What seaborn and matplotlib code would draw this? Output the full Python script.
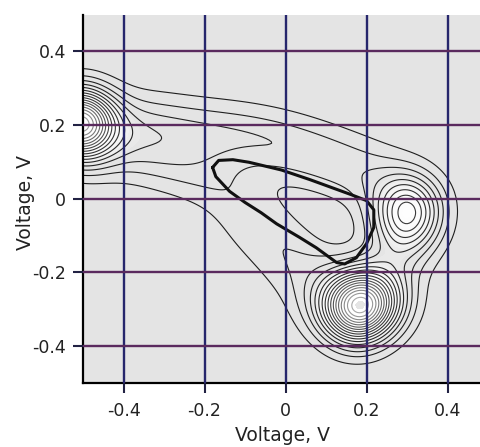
import numpy as np
import pandas as pd
import seaborn as sns
import matplotlib
matplotlib.use("Agg")
import matplotlib.pyplot as plt
from matplotlib.colors import LinearSegmentedColormap
from seaborn._statistics import KDE

# ---- density sample points (x, y, weight) ----
peak_x = [-0.51, -0.50, 0.305, 0.30, 0.19, 0.175, 0.13, 0.245]
peak_y = [0.212, 0.155, -0.005, -0.065, -0.275, -0.325, -0.285, -0.285]
peak_w = [14.0, 3.0, 5.0, 5.0, 10.0, 6.0, 2.0, 2.0]

upper_x = [-0.44, -0.40, -0.36, -0.32, -0.28, -0.24, -0.20, -0.16, -0.12,
           -0.08, -0.04, 0.00, 0.04, 0.08, 0.12, 0.16, 0.20, 0.24]
upper_y = [0.205, 0.200, 0.194, 0.189, 0.183, 0.176, 0.172, 0.168, 0.164,
           0.158, 0.149, 0.138, 0.124, 0.108, 0.092, 0.075, 0.056, 0.036]
upper_w = [0.7] * 18

upper_out_x = [-0.36, -0.28, -0.20, -0.12, -0.04, 0.04, 0.12, 0.20, 0.27]
upper_out_y = [0.235, 0.225, 0.215, 0.205, 0.192, 0.175, 0.152, 0.122, 0.085]
upper_out_w = [0.35] * 9

lower_x = [-0.44, -0.40, -0.36, -0.32, -0.28, -0.24, -0.20, -0.16, -0.12,
           -0.08, -0.04, 0.00, 0.04, 0.08, 0.12]
lower_y = [0.140, 0.130, 0.118, 0.106, 0.093, 0.078, 0.060, 0.036, 0.004,
           -0.035, -0.077, -0.118, -0.162, -0.207, -0.250]
lower_w = [0.6] * 8 + [0.55] * 4 + [0.7] * 3

lower_out_x = [-0.12, -0.08, -0.04, 0.00, 0.04, 0.08]
lower_out_y = [-0.070, -0.120, -0.170, -0.220, -0.270, -0.315]
lower_out_w = [0.3] * 6

right_x = [0.29, 0.27, 0.25]
right_y = [-0.12, -0.17, -0.22]
right_w = [1.0] * 3

# bold closed trajectory drawn over the density
loop_x = [-0.180, -0.165, -0.130, -0.090, -0.010, 0.060, 0.120, 0.160, 0.200,
          0.218, 0.218, 0.200, 0.175, 0.146, 0.126, 0.076, 0.035, -0.022,
          -0.060, -0.100, -0.138, -0.172, -0.180]
loop_y = [0.085, 0.104, 0.106, 0.099, 0.078, 0.052, 0.028, 0.012, -0.005,
          -0.030, -0.078, -0.122, -0.160, -0.177, -0.173, -0.133, -0.105,
          -0.068, -0.038, -0.010, 0.020, 0.060, 0.085]

ticks = [-0.4, -0.2, 0, 0.2, 0.4]
tick_labels = ["-0.4", "-0.2", "0", "0.2", "0.4"]
xlabel = "Voltage, V"
ylabel = "Voltage, V"

df = pd.DataFrame({
    "x": peak_x + upper_x + upper_out_x + lower_x + lower_out_x + right_x,
    "y": peak_y + upper_y + upper_out_y + lower_y + lower_out_y + right_y,
    "w": peak_w + upper_w + upper_out_w + lower_w + lower_out_w + right_w,
})
loop = pd.DataFrame({"x": loop_x, "y": loop_y})

KERNEL_SD = (0.058, 0.061)   # kernel standard deviation in x and y
GRID = 250
CUT = 4


def fixed_kernel(kde):
    """Bandwidth rule: a fixed axis-aligned Gaussian kernel."""
    c = np.diag([KERNEL_SD[0] ** 2, KERNEL_SD[1] ** 2])
    kde._data_covariance = c
    kde._data_cho_cov = np.linalg.cholesky(c)
    kde._data_inv_cov = np.linalg.inv(c)
    return 1.0


# contour spacing: the peak height of a weight-1 point
step = 1.0 / (2 * np.pi * KERNEL_SD[0] * KERNEL_SD[1] * df["w"].sum())
dens, _ = KDE(bw_method=fixed_kernel, gridsize=GRID, cut=CUT)(
    df["x"], df["y"], weights=df["w"])
vals = np.ravel(dens)
total = vals.sum()


def props(thresholds):
    return [float(vals[vals < t].sum() / total) for t in thresholds
            if t < vals.max()]


line_levels = props([step * k for k in range(1, 30)])
fill_levels = props([step * k for k in np.arange(4, 30, 0.5)])

sns.set_style("white")
plt.rcParams["font.family"] = ["DejaVu Sans"]

fig = plt.figure(figsize=(4.81, 4.47), dpi=100)
ax = fig.add_axes([83 / 481, (447 - 383) / 447, 405 / 481, 368.5 / 447])
ax.set_facecolor("#e4e4e4")

white_cmap = LinearSegmentedColormap.from_list(
    "w", ["#e4e4e4", "#f3f3f3", "#fcfcfc", "#ffffff", "#ffffff",
          "#ffffff", "#ffffff"])
line_cmap = LinearSegmentedColormap.from_list(
    "l", ["#1e1e1e", "#262626", "#3a3a3a", "#6a6a6a", "#a8a8a8"])
sns.kdeplot(data=df, x="x", y="y", weights="w", bw_method=fixed_kernel,
            fill=True, levels=fill_levels, cmap=white_cmap,
            gridsize=GRID, cut=CUT, ax=ax)
sns.kdeplot(data=df, x="x", y="y", weights="w", bw_method=fixed_kernel,
            levels=line_levels, cmap=line_cmap, linewidths=0.8,
            gridsize=GRID, cut=CUT, ax=ax)
sns.lineplot(data=loop, x="x", y="y", sort=False, estimator=None,
             color="#111111", linewidth=2.2, ax=ax)

ax.set_xlim(-0.5, 0.5)
ax.set_ylim(-0.5, 0.5)
ax.set_xticks(ticks)
ax.set_xticklabels(tick_labels)
ax.set_yticks(ticks)
ax.set_yticklabels(tick_labels)
ax.set_axisbelow(False)
ax.xaxis.grid(True, color="#26266c", linewidth=1.7)
ax.yaxis.grid(True, color="#5a2a5e", linewidth=1.7)

for s in ["top", "right"]:
    ax.spines[s].set_visible(False)
for s in ["left", "bottom"]:
    ax.spines[s].set_color("black")
    ax.spines[s].set_linewidth(1.6)

ax.tick_params(axis="both", direction="out", length=7.5, width=1.5,
               color="#222244", labelsize=12.5, labelcolor="#222222",
               bottom=True, left=True)
ax.tick_params(axis="x", pad=6)
ax.tick_params(axis="y", pad=4.5)
ax.set_xlabel(xlabel, fontsize=13.5, color="#222222")
ax.set_ylabel(ylabel, fontsize=13.5, color="#222222")
ax.xaxis.set_label_coords(0.5 - 3 / 405, -0.117)
ax.yaxis.set_label_coords(-0.118, 0.5 - 4 / 368.5)

fig.savefig("out.png", dpi=100)
